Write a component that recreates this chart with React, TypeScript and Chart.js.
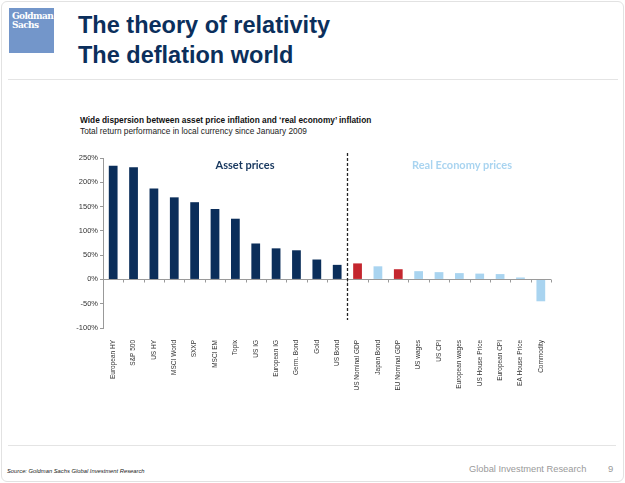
import React, { useEffect, useRef } from "react";
import { Chart, registerables } from "chart.js";

Chart.register(...registerables);

const categories = [
  "European HY", "S&P 500", "US HY", "MSCI World", "SXXP", "MSCI EM", "Topix",
  "US IG", "European IG", "Germ. Bond", "Gold", "US Bond",
  "US Nominal GDP", "Japan Bond", "EU Nominal GDP", "US wages", "US CPI",
  "European wages", "US House Price", "European CPI", "EA House Price", "Commodity",
];
const values = [
  234, 231, 187, 169, 159, 145, 125, 74, 64, 60, 41, 30,
  33, 27, 21, 17, 15, 13, 12, 11, 4, -45,
];
const groups = [
  "asset", "asset", "asset", "asset", "asset", "asset", "asset", "asset", "asset", "asset", "asset", "asset",
  "gdp", "real", "gdp", "real", "real", "real", "real", "real", "real", "real",
];
const yMin = -100;
const yMax = 250;
const yStep = 50;

const NAVY = "#0B2E5A";
const RED = "#C4262E";
const LIGHT = "#A9D4F0";
const groupColor: Record<string, string> = { asset: NAVY, gdp: RED, real: LIGHT };

const overlayPlugin = {
  id: "overlay",
  afterDatasetsDraw(chart: any) {
    const { ctx, chartArea, scales } = chart;
    const y0 = scales.y.getPixelForValue(0);
    const n = categories.length;
    const cw = (chartArea.right - chartArea.left) / n;
    ctx.save();
    ctx.strokeStyle = "#9a9a9a";
    ctx.lineWidth = 1;
    ctx.beginPath();
    ctx.moveTo(chartArea.left, Math.round(y0) + 0.5);
    ctx.lineTo(chartArea.right, Math.round(y0) + 0.5);
    for (let i = 1; i <= n; i++) {
      const x = Math.round(chartArea.left + i * cw) + 0.5;
      ctx.moveTo(x, Math.round(y0) + 0.5);
      ctx.lineTo(x, Math.round(y0) + 3.5);
    }
    ctx.stroke();
    // dashed divider between asset and real economy prices
    const xd = Math.round((scales.x.getPixelForValue(11) + scales.x.getPixelForValue(12)) / 2) + 0.5;
    ctx.strokeStyle = "#222";
    ctx.lineWidth = 1.3;
    ctx.setLineDash([3, 2]);
    ctx.beginPath();
    ctx.moveTo(xd, chartArea.top - 5);
    ctx.lineTo(xd, chartArea.bottom - 8);
    ctx.stroke();
    ctx.restore();
  },
};

function BarChart() {
  const ref = useRef<HTMLCanvasElement>(null);
  useEffect(() => {
    if (!ref.current) return;
    const chart = new Chart(ref.current, {
      type: "bar",
      data: {
        labels: categories,
        datasets: [
          {
            data: values,
            backgroundColor: groups.map((g) => groupColor[g]),
            barPercentage: 0.43,
            categoryPercentage: 1,
          },
        ],
      },
      options: {
        animation: false,
        responsive: false,
        layout: { padding: { top: 18, right: 9, left: 0, bottom: 0 } },
        plugins: { legend: { display: false }, tooltip: { enabled: false } },
        scales: {
          x: {
            grid: { display: false },
            border: { display: false },
            ticks: {
              autoSkip: false,
              minRotation: 90,
              maxRotation: 90,
              padding: 4,
              color: "#333",
              font: { family: "Arial, 'Liberation Sans'", size: 6.5 },
            },
            afterFit: (s: any) => {
              s.height = 112;
            },
          },
          y: {
            min: yMin,
            max: yMax,
            ticks: {
              stepSize: yStep,
              padding: 2,
              color: "#333",
              font: { family: "Arial, 'Liberation Sans'", size: 7.5 },
              callback: (v: any) => v + "%",
            },
            grid: { drawOnChartArea: false, tickLength: 3, color: "#999" },
            border: { display: true, color: "#999" },
            afterFit: (s: any) => {
              s.width = 43;
            },
          },
        },
      },
      plugins: [overlayPlugin],
    });
    return () => chart.destroy();
  }, []);
  return (
    <canvas
      ref={ref}
      width={500}
      height={300}
      style={{ position: "absolute", left: 60, top: 140, width: 500, height: 300 }}
    />
  );
}

export default function App() {
  const arial = "Arial, 'Liberation Sans', sans-serif";
  return (
    <div
      style={{
        position: "absolute",
        left: 0,
        top: 0,
        width: 625,
        height: 483,
        background: "#fff",
        overflow: "hidden",
        fontFamily: arial,
      }}
    >
      <div
        style={{
          position: "absolute",
          left: 1,
          top: 1,
          width: 621,
          height: 479,
          border: "1px solid #e2e2e2",
          borderRadius: 6,
        }}
      />
      {/* logo */}
      <div
        style={{
          position: "absolute",
          left: 9,
          top: 8,
          width: 45,
          height: 45,
          background: "#7396CA",
        }}
      >
        <div
          style={{
            position: "absolute",
            left: 3,
            top: 4,
            color: "#fff",
            fontFamily: "'DejaVu Serif', 'Liberation Serif', serif",
            fontWeight: "bold",
            fontSize: 9,
            lineHeight: "9px",
            letterSpacing: -0.6,
          }}
        >
          Goldman
          <br />
          Sachs
        </div>
      </div>
      {/* title */}
      <div
        style={{
          position: "absolute",
          left: 78,
          top: 10,
          color: "#0B2F5C",
          fontWeight: "bold",
          fontSize: 23.5,
          lineHeight: "30px",
          whiteSpace: "nowrap",
        }}
      >
        The theory of relativity
        <br />
        The deflation world
      </div>
      <div style={{ position: "absolute", left: 8, top: 79, width: 610, height: 1, background: "#e4e4e4" }} />
      {/* chart titles */}
      <div
        style={{
          position: "absolute",
          left: 80,
          top: 115,
          fontSize: 8.3,
          fontWeight: "bold",
          color: "#111",
          whiteSpace: "nowrap",
          lineHeight: "10px",
        }}
      >
        Wide dispersion between asset price inflation and ‘real economy’ inflation
      </div>
      <div
        style={{
          position: "absolute",
          left: 80,
          top: 126,
          fontSize: 8.3,
          color: "#222",
          whiteSpace: "nowrap",
          lineHeight: "10px",
        }}
      >
        Total return performance in local currency since January 2009
      </div>
      <BarChart />
      <div
        style={{
          position: "absolute",
          left: 185,
          top: 157,
          width: 120,
          textAlign: "center",
          fontFamily: "Lato, 'Open Sans', sans-serif",
          fontWeight: "bold",
          fontSize: 11,
          lineHeight: "16px",
          color: "#17375E",
        }}
      >
        Asset prices
      </div>
      <div
        style={{
          position: "absolute",
          left: 392,
          top: 157,
          width: 140,
          textAlign: "center",
          fontFamily: "Lato, 'Open Sans', sans-serif",
          fontWeight: "bold",
          fontSize: 11,
          lineHeight: "16px",
          color: "#A9D4F0",
        }}
      >
        Real Economy prices
      </div>
      {/* footer */}
      <div style={{ position: "absolute", left: 8, top: 445, width: 608, height: 1, background: "#e4e4e4" }} />
      <div
        style={{
          position: "absolute",
          left: 7,
          top: 467,
          fontSize: 5.8,
          fontStyle: "italic",
          color: "#222",
          whiteSpace: "nowrap",
          lineHeight: "8px",
        }}
      >
        Source: Goldman Sachs Global Investment Research
      </div>
      <div
        style={{
          position: "absolute",
          left: 469,
          top: 463,
          fontSize: 9.3,
          color: "#9a9a9a",
          whiteSpace: "nowrap",
          lineHeight: "12px",
        }}
      >
        Global Investment Research
      </div>
      <div
        style={{
          position: "absolute",
          left: 608,
          top: 463,
          fontSize: 9.5,
          color: "#9a9a9a",
          lineHeight: "12px",
        }}
      >
        9
      </div>
    </div>
  );
}
